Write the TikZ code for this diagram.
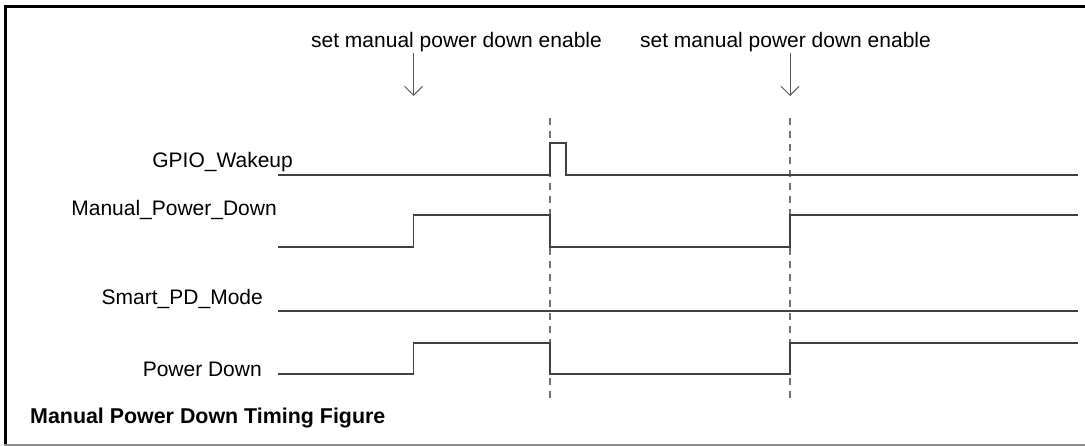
\documentclass[tikz,border=0pt]{standalone}
\usepackage{fontspec}
\setmainfont{Liberation Sans}
\usetikzlibrary{arrows.meta}
\begin{document}
\begin{tikzpicture}[x=1pt,y=-1pt,
  lbl/.style={inner sep=0pt,font=\fontsize{21}{25}\selectfont},
  sig/.style={draw=black!75,line width=1.1pt},
  guide/.style={draw=black!55,line width=1.1pt,dash pattern=on 7pt off 6pt},
  pointer/.style={draw=black!65,line width=0.9pt,-{Straight Barb[length=9pt,width=18pt]}},
  frametop/.style={draw=black,line width=2.6pt},
  framebot/.style={draw=black!45,line width=1.4pt}]
\useasboundingbox (0,0) rectangle (1085,446);
% frame
\draw[frametop] (1085,6.5) -- (5.3,6.5) -- (5.3,445);
\draw[framebot] (4,445) -- (1085,445);
% top labels and arrows
\node[lbl,anchor=base] (en1) at (456.5,48) {set manual power down enable};
\node[lbl,anchor=base] (en2) at (785.5,48) {set manual power down enable};
\coordinate (a1s) at (413.5,53);
\coordinate (a1e) at (413.5,96);
\coordinate (a2s) at (790,53);
\coordinate (a2e) at (790,96);
\draw[pointer] (a1s) -- (a1e);
\draw[pointer] (a2s) -- (a2e);
% dashed guide lines
\coordinate (g1t) at (550,118);
\coordinate (g1b) at (550,403);
\coordinate (g2t) at (790,118);
\coordinate (g2b) at (790,403);
\draw[guide] (g1t) -- (g1b);
\draw[guide] (g2t) -- (g2b);
% signal labels
\node[lbl,anchor=base east] (gpio) at (293,168) {GPIO\_Wakeup};
\node[lbl,anchor=base east] (mpd) at (277,216) {Manual\_Power\_Down};
\node[lbl,anchor=base east] (spd) at (263,305) {Smart\_PD\_Mode};
\node[lbl,anchor=base east] (pd) at (262,377) {Power Down};
% signals
\draw[sig] (278,175) -- (550,175) -- (550,143) -- (566,143) -- (566,175) -- (1078,175);
\draw[sig] (278,247) -- (413.5,247) -- (413.5,215) -- (550,215) -- (550,247) -- (790,247) -- (790,215) -- (1078,215);
\draw[sig] (278,311) -- (1078,311);
\draw[sig] (278,374) -- (413.5,374) -- (413.5,343) -- (550,343) -- (550,374) -- (790,374) -- (790,343) -- (1078,343);
% title
\node[lbl,anchor=base west,font=\fontsize{21.4}{25}\selectfont\bfseries] (title) at (30,424) {Manual Power Down Timing Figure};
\end{tikzpicture}
\end{document}
